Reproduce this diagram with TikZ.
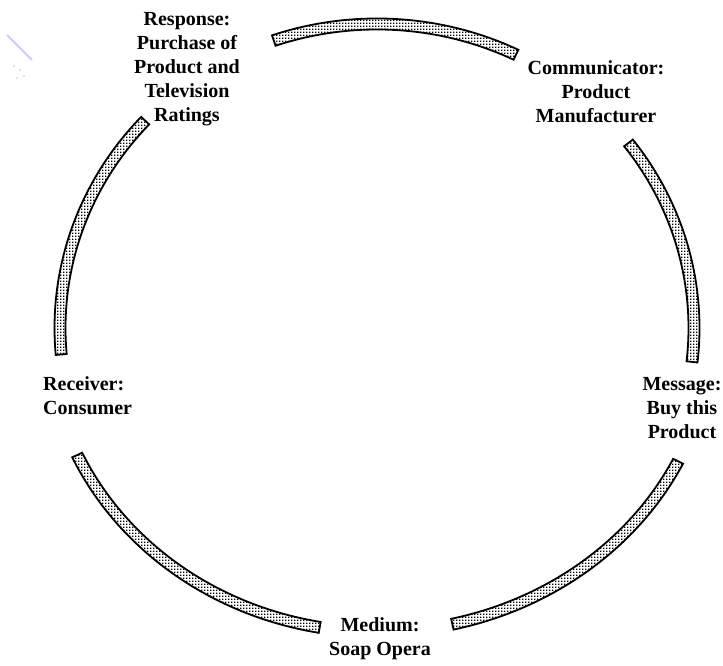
\documentclass[tikz,border=0pt]{standalone}
\usepackage{fontspec}
\setmainfont{Liberation Serif}
\usetikzlibrary{patterns}
\pgfdeclarepatternformonly{griddots}{\pgfpointorigin}{\pgfpoint{3bp}{3bp}}{\pgfpoint{3bp}{3bp}}{%
  \pgfpathrectangle{\pgfpointorigin}{\pgfpoint{1.9bp}{1.9bp}}\pgfusepath{fill}}
\tikzset{
  band/.style={draw=black, line width=1.8bp, pattern=griddots, pattern color=black},
  lbl/.style={font=\bfseries\fontsize{20bp}{24bp}\selectfont, align=center, inner sep=0pt},
  faint/.style={draw=blue!20, line width=2bp}
}
% #1 start, #2 end, #3 x radius (mid), #4 y radius (mid)
\newcommand\bandarc[4]{%
  \path[band] ([shift={(#1:#3bp+5.5bp and #4bp+5.5bp)}]c) arc[start angle=#1, end angle=#2, x radius=#3bp+5.5bp, y radius=#4bp+5.5bp]
    -- ([shift={(#2:#3bp-5.5bp and #4bp-5.5bp)}]c) arc[start angle=#2, end angle=#1, x radius=#3bp-5.5bp, y radius=#4bp-5.5bp] -- cycle;}
\begin{document}
\begin{tikzpicture}[x=1bp,y=1bp]
\useasboundingbox[fill=white] (0,0) rectangle (723,666);
\coordinate (c) at (377,338);
% arcs
\bandarc{64}{109}{317}{304}
\bandarc{-6.4}{37.5}{317}{304}
\bandarc{-77}{-26}{335}{304}
\bandarc{-155.3}{-100}{330}{304}
\bandarc{137}{185}{317}{304}
% labels
\node[lbl] (resp) at (187,597) {Response:\\Purchase of\\Product and\\Television\\Ratings};
\node[lbl] (comm) at (596,574) {Communicator:\\Product\\Manufacturer};
\node[lbl] (msg) at (682,258) {Message:\\Buy this\\Product};
\node[lbl] (med) at (380,27) {Medium:\\Soap Opera};
\node[lbl, align=left, anchor=west] (recv) at (43,270) {Receiver:\\Consumer};
% faint mark
\coordinate (f1) at (7,631);
\coordinate (f2) at (32,606);
\draw[faint] (f1) -- (f2);
\fill[blue!18] (14,600) circle (1.2bp) (20,596) circle (1.2bp) (24,590) circle (1.2bp) (17,588) circle (1.2bp);
\end{tikzpicture}
\end{document}
